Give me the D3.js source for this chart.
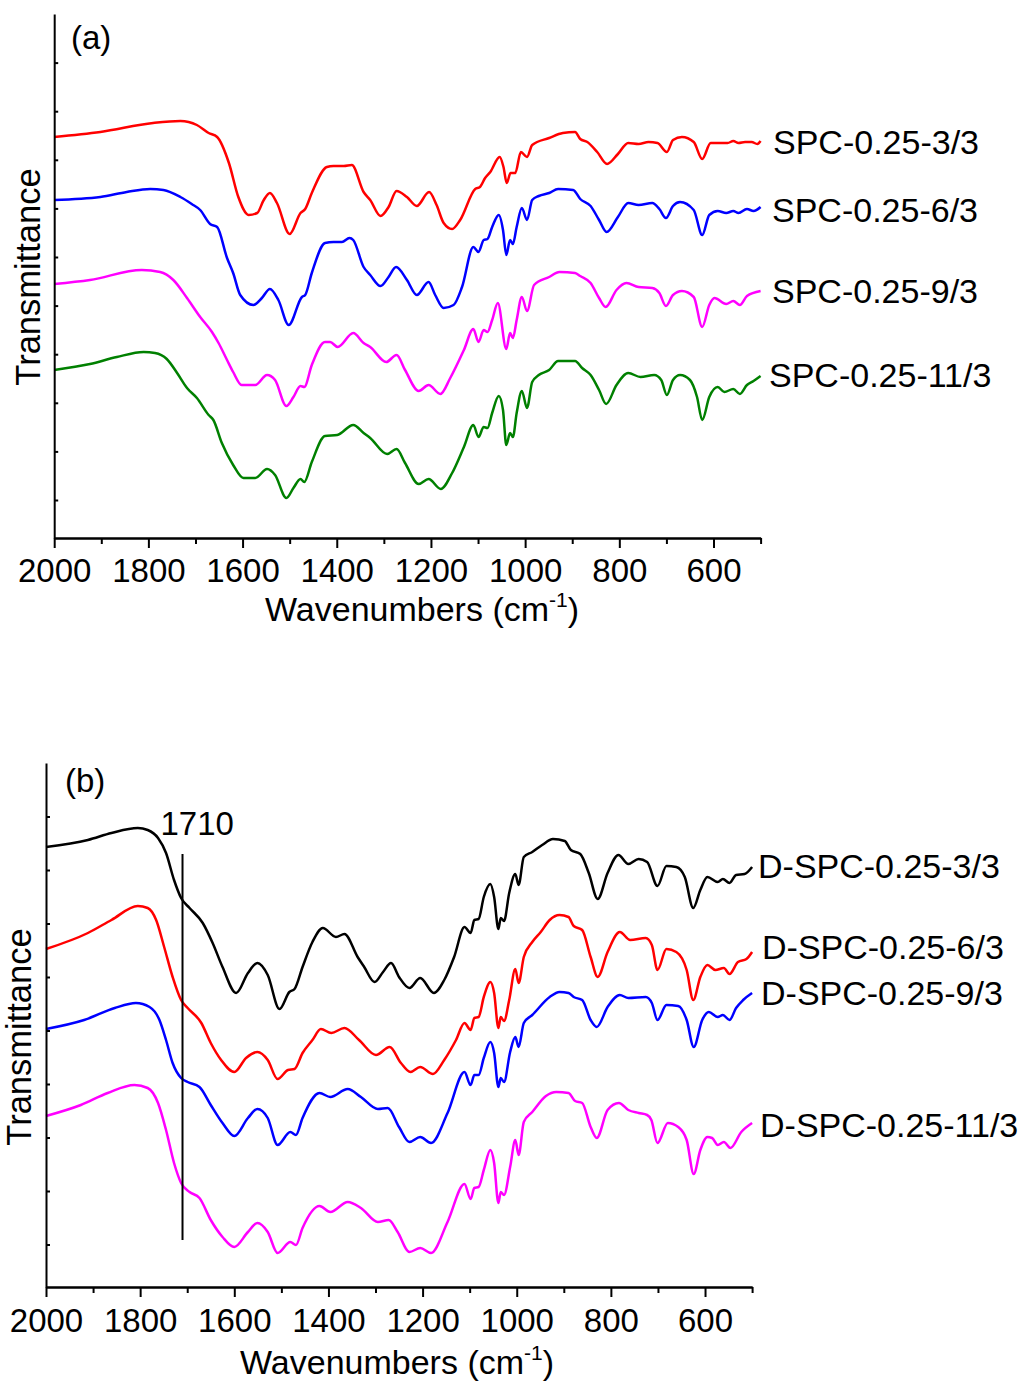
<!DOCTYPE html>
<html><head><meta charset="utf-8">
<script src="https://cdn.jsdelivr.net/npm/d3@7"></script>
<style>
body{margin:0;background:#fff}
svg text{font-family:"Liberation Sans",Arial,sans-serif;fill:#000}
</style></head><body>
<svg id="c" width="1027" height="1384"></svg>
<script>
// ---------- data ----------
const xTickLabels = [2000,1800,1600,1400,1200,1000,800,600];
const xMinorTicks = [1900,1700,1500,1300,1100,900,700,500];
const namesA = ["SPC-0.25-3/3","SPC-0.25-6/3","SPC-0.25-9/3","SPC-0.25-11/3"];
const colorsA = ["#ff0000","#0000ff","#ff00ff","#008000"];
const namesB = ["D-SPC-0.25-3/3","D-SPC-0.25-6/3","D-SPC-0.25-9/3","D-SPC-0.25-11/3"];
const colorsB = ["#000000","#ff0000","#0000ff","#ff00ff"];
const markerWn = 1710;            // marked band in panel (b)
const markerSpan = [433, 47];     // transmittance extent of the marker line (a.u.)

// [wavenumber (cm-1), transmittance (a.u., offset)]
const spcA3 = [[2000,401],[1902,406],[1790,415],[1732,417],[1697,413],[1672,405],[1654,401],[1629,375],[1609,341],[1587,323],[1569,325],[1555,338],[1542,345],[1527,335],[1500,304],[1477,325],[1467,329],[1453,345],[1421,371],[1407,372],[1385,372],[1368,373],[1343,346],[1329,338],[1307,322],[1290,331],[1273,347],[1251,341],[1230,332],[1204,346],[1188,333],[1173,315],[1155,309],[1138,318],[1106,349],[1096,351],[1085,360],[1074,366],[1054,381],[1046,371],[1039,355],[1031,365],[1021,365],[1009,386],[996,381],[985,393],[949,400],[920,405],[894,406],[883,399],[868,396],[847,386],[826,374],[803,384],[781,395],[759,394],[738,396],[719,395],[699,386],[686,398],[667,401],[642,396],[624,379],[606,395],[584,395],[570,395],[558,397],[547,395],[533,396],[519,396],[507,394],[500,397]];
const spcA6 = [[2000,338],[1902,341],[1846,346],[1796,349],[1768,348],[1732,341],[1708,334],[1690,328],[1669,314],[1654,311],[1633,280],[1620,265],[1605,243],[1577,233],[1559,240],[1542,249],[1524,238],[1502,213],[1474,241],[1467,243],[1453,265],[1425,295],[1407,296],[1389,296],[1373,300],[1365,298],[1343,271],[1329,263],[1307,252],[1290,261],[1274,271],[1251,258],[1230,243],[1205,256],[1191,243],[1173,230],[1152,233],[1134,251],[1110,291],[1099,286],[1088,298],[1080,299],[1070,311],[1056,323],[1047,308],[1040,283],[1032,298],[1026,294],[1018,311],[1007,330],[996,318],[985,338],[971,342],[949,345],[930,349],[898,348],[883,339],[861,332],[843,318],[827,306],[803,321],[781,335],[759,333],[730,335],[715,329],[701,320],[686,332],[671,336],[642,328],[624,303],[609,323],[591,327],[573,325],[558,327],[547,325],[529,329],[515,327],[500,331]];
const spcA9 = [[2000,254],[1924,258],[1814,268],[1775,266],[1747,258],[1718,240],[1690,221],[1665,206],[1651,195],[1633,178],[1620,166],[1602,153],[1573,153],[1548,163],[1531,158],[1507,132],[1492,141],[1477,152],[1469,151],[1453,173],[1425,196],[1414,196],[1398,191],[1365,205],[1343,195],[1329,191],[1295,176],[1273,183],[1255,168],[1226,147],[1205,153],[1180,144],[1159,160],[1130,188],[1110,209],[1099,196],[1088,208],[1080,206],[1070,218],[1058,235],[1040,189],[1032,205],[1026,200],[1018,218],[1007,241],[996,227],[981,253],[949,261],[927,266],[894,265],[883,262],[861,255],[843,240],[829,231],[806,248],[785,255],[759,251],[730,250],[715,245],[701,232],[686,243],[667,247],[642,241],[624,211],[609,233],[598,240],[573,234],[558,237],[544,233],[529,242],[500,247]];
const spcA11 = [[2000,168],[1924,174],[1867,181],[1810,186],[1786,185],[1761,179],[1739,165],[1718,150],[1697,140],[1672,123],[1662,118],[1644,95],[1620,73],[1598,60],[1573,60],[1548,69],[1531,63],[1507,40],[1492,50],[1477,59],[1469,56],[1453,76],[1425,102],[1399,103],[1365,113],[1343,105],[1329,100],[1293,84],[1273,89],[1255,75],[1226,54],[1205,59],[1179,49],[1155,65],[1130,91],[1110,113],[1099,101],[1088,111],[1080,110],[1070,125],[1056,142],[1047,128],[1040,93],[1032,105],[1026,101],[1018,125],[1007,147],[996,130],[985,156],[971,163],[949,168],[930,177],[894,177],[879,170],[861,163],[843,148],[828,134],[806,153],[781,165],[755,161],[726,163],[711,158],[699,143],[686,158],[671,163],[650,158],[635,141],[624,118],[609,141],[591,151],[577,146],[558,149],[544,144],[529,153],[515,157],[500,162]];

const dspc3 = [[2000,440],[1911,447],[1861,454],[1805,459],[1784,457],[1762,449],[1745,434],[1728,407],[1713,389],[1695,379],[1667,364],[1646,344],[1625,320],[1596,294],[1571,314],[1551,324],[1529,312],[1504,278],[1483,295],[1472,298],[1455,320],[1434,345],[1412,359],[1384,350],[1366,353],[1338,330],[1324,320],[1302,305],[1284,315],[1267,324],[1250,310],[1228,299],[1205,309],[1176,294],[1154,307],[1133,330],[1111,360],[1098,354],[1090,367],[1081,368],[1070,390],[1056,403],[1048,390],[1039,358],[1034,369],[1027,366],[1016,394],[1003,413],[996,402],[985,430],[967,435],[946,442],[923,448],[898,446],[885,437],[865,433],[847,414],[828,388],[807,414],[784,432],[763,423],[741,428],[723,425],[701,401],[682,421],[661,420],[643,410],[625,379],[610,397],[595,410],[573,405],[562,408],[548,404],[534,412],[516,413],[500,420]];
const dspc6 = [[2000,338],[1911,354],[1861,367],[1805,381],[1784,379],[1766,367],[1749,340],[1731,310],[1713,287],[1699,279],[1670,264],[1650,244],[1628,227],[1600,215],[1575,229],[1551,235],[1529,227],[1508,208],[1486,217],[1472,218],[1455,234],[1434,247],[1416,258],[1394,254],[1366,259],[1335,247],[1299,232],[1270,240],[1246,224],[1226,215],[1205,220],[1178,213],[1154,227],[1129,247],[1111,264],[1098,257],[1090,269],[1081,270],[1070,290],[1056,305],[1048,294],[1039,259],[1034,270],[1027,266],[1016,287],[1003,318],[996,304],[985,330],[967,345],[949,355],[930,367],[909,372],[890,370],[879,361],[861,357],[843,330],[828,310],[807,335],[781,355],[759,347],[726,349],[713,342],[701,317],[682,338],[661,335],[639,317],[625,287],[610,310],[595,322],[578,317],[560,319],[548,313],[530,325],[512,328],[500,335]];
const dspc9 = [[2000,258],[1919,267],[1854,279],[1809,284],[1780,280],[1759,267],[1745,247],[1731,224],[1713,209],[1699,205],[1674,200],[1650,182],[1625,164],[1600,151],[1571,169],[1551,178],[1529,169],[1508,142],[1481,155],[1469,152],[1455,169],[1419,194],[1396,190],[1359,198],[1331,190],[1295,178],[1274,179],[1250,160],[1228,145],[1205,150],[1182,144],[1147,174],[1111,215],[1098,202],[1090,212],[1081,212],[1070,229],[1056,245],[1048,234],[1039,200],[1034,209],[1027,205],[1014,235],[1003,250],[996,240],[985,264],[967,272],[930,290],[909,295],[890,294],[879,290],[861,287],[843,267],[830,260],[807,280],[781,292],[763,289],[726,290],[713,284],[701,267],[682,282],[657,281],[639,267],[624,240],[606,267],[592,275],[573,270],[562,272],[548,267],[534,279],[519,287],[500,294]];
const dspc11 = [[2000,171],[1926,182],[1869,194],[1812,202],[1784,199],[1762,184],[1745,157],[1728,124],[1713,104],[1695,95],[1674,89],[1650,67],[1625,50],[1600,40],[1571,55],[1551,64],[1529,55],[1508,34],[1481,45],[1469,42],[1455,59],[1419,81],[1396,75],[1359,85],[1331,79],[1295,65],[1272,67],[1253,55],[1228,35],[1205,39],[1182,34],[1147,65],[1111,103],[1098,88],[1090,99],[1081,100],[1070,117],[1056,137],[1048,124],[1039,84],[1034,95],[1027,92],[1014,120],[1003,147],[996,132],[985,165],[967,175],[938,191],[916,195],[890,194],[876,186],[861,184],[843,160],[830,149],[807,177],[783,184],[763,177],[741,174],[723,172],[714,167],[701,144],[679,164],[657,160],[639,147],[624,113],[610,137],[595,150],[585,149],[573,142],[560,145],[546,139],[523,155],[500,164]];

// ---------- layout ----------
const panels = [
  {series:[spcA3,spcA6,spcA9,spcA11], names:namesA, colors:colorsA,
   x0:54.2, x1:760.6, yTop:14, yBot:538, tickStep:48.6, tag:"(a)", tagPos:[71,49],
   labelPos:[[773,154],[772,222],[772,303],[769,387]],
   titlePos:[265,621], tickPad:10.6, yTitlePos:[40,277], marker:false},
  {series:[dspc3,dspc6,dspc9,dspc11], names:namesB, colors:colorsB,
   x0:46, x1:752.1, yTop:763, yBot:1287, tickStep:53.5, tag:"(b)", tagPos:[65,792],
   labelPos:[[758,878],[762,959],[761,1005],[760,1137]],
   titlePos:[240,1374], tickPad:11.6, yTitlePos:[31,1037], marker:true}
];

const svg = d3.select("#c");
const FS = 33, FL = 34;

panels.forEach(p => {
  const x = d3.scaleLinear().domain([2000, 500]).range([p.x0, p.x1]);
  const y = d3.scaleLinear().domain([0, p.yBot - p.yTop]).range([p.yBot, p.yTop]);
  const g = svg.append("g");

  // curves
  const line = d3.line().x(d => x(d[0])).y(d => y(d[1])).curve(d3.curveMonotoneX);
  p.series.forEach((s, i) => {
    g.append("path").datum(s).attr("d", line)
      .attr("fill", "none").attr("stroke", p.colors[i])
      .attr("stroke-width", 2.5).attr("stroke-linejoin", "round");
    g.append("text").attr("x", p.labelPos[i][0]).attr("y", p.labelPos[i][1])
      .attr("font-size", FL).text(p.names[i]);
  });

  // y axis (inward ticks, no labels)
  const yTicks = d3.range(1, 20).map(k => (p.yBot - p.yTop) - k * p.tickStep).filter(v => v > 0);
  const ya = g.append("g").attr("transform", `translate(${p.x0},0)`)
    .call(d3.axisRight(y).tickValues(yTicks).tickSize(4).tickSizeOuter(0).tickFormat(""));
  ya.selectAll("path,line").attr("stroke", "#000").attr("stroke-width", 2);

  // x axis minor
  const xm = g.append("g").attr("transform", `translate(0,${p.yBot})`)
    .call(d3.axisBottom(x).tickValues(xMinorTicks).tickSize(6).tickSizeOuter(0).tickFormat(""));
  xm.selectAll("path,line").attr("stroke", "#000").attr("stroke-width", 2);
  // x axis major
  const xa = g.append("g").attr("transform", `translate(0,${p.yBot})`)
    .call(d3.axisBottom(x).tickValues(xTickLabels).tickSize(10).tickSizeOuter(0)
      .tickPadding(p.tickPad).tickFormat(d3.format("d")));
  xa.selectAll("path,line").attr("stroke", "#000").attr("stroke-width", 2);
  xa.selectAll("text").attr("font-size", FS).attr("font-family", '"Liberation Sans",Arial,sans-serif').attr("fill", "#000");

  // x title with superscript
  const t = g.append("text").attr("x", p.titlePos[0]).attr("y", p.titlePos[1]).attr("font-size", FL);
  t.append("tspan").text("Wavenumbers (cm");
  t.append("tspan").attr("font-size", 21).attr("dy", -14).text("-1");
  t.append("tspan").attr("dy", 14).text(")");

  // y title
  g.append("text").attr("transform", `translate(${p.yTitlePos[0]},${p.yTitlePos[1]}) rotate(-90)`)
    .attr("text-anchor", "middle").attr("font-size", 34.5).text("Transmittance");

  // panel tag
  g.append("text").attr("x", p.tagPos[0]).attr("y", p.tagPos[1]).attr("font-size", FS).text(p.tag);

  if (p.marker) {
    g.append("line").attr("x1", x(markerWn)).attr("x2", x(markerWn))
      .attr("y1", y(markerSpan[0])).attr("y2", y(markerSpan[1]))
      .attr("stroke", "#000").attr("stroke-width", 2);
    g.append("text").attr("x", x(markerWn) - 22).attr("y", y(markerSpan[0]) - 19)
      .attr("font-size", FS).text(String(markerWn));
  }
});
</script>
</body></html>
